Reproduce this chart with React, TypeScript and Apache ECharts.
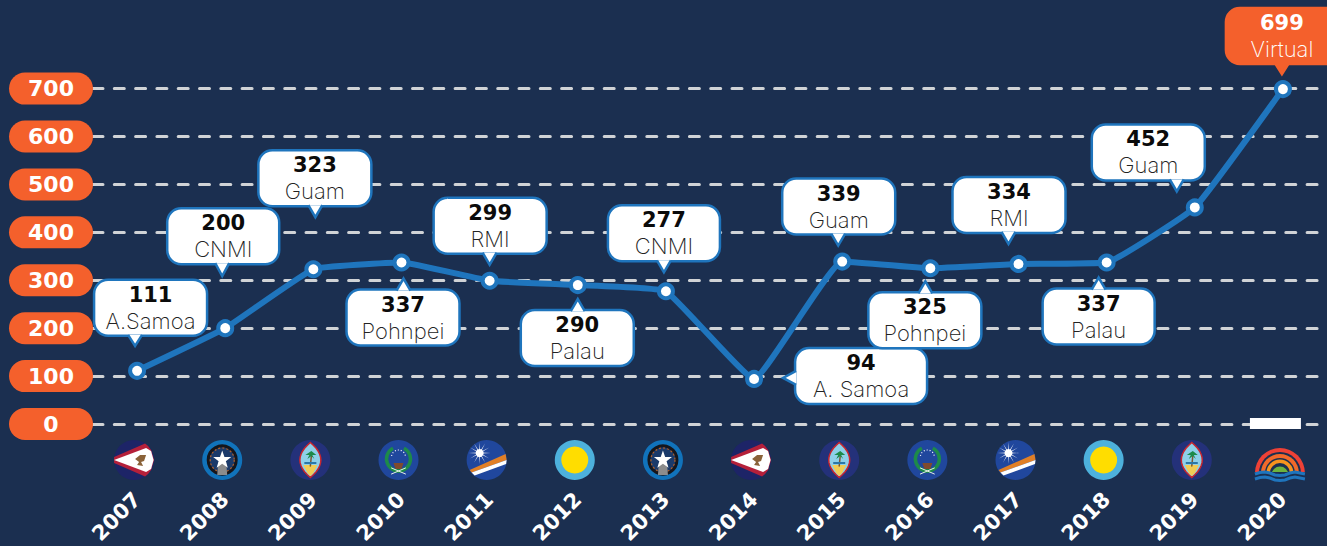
import React, { useEffect, useRef } from "react";
import * as echarts from "echarts";

const years = ["2007","2008","2009","2010","2011","2012","2013","2014","2015","2016","2017","2018","2019","2020"];
const participants = [111,200,323,337,299,290,277,94,339,325,334,337,452,699];
const hosts = ["A.Samoa","CNMI","Guam","Pohnpei","RMI","Palau","CNMI","A. Samoa","Guam","Pohnpei","RMI","Palau","Guam","Virtual"];
const flags = ["asamoa","cnmi","guam","pohnpei","rmi","palau","cnmi","asamoa","guam","pohnpei","rmi","palau","guam","virtual"];
const yTicks = [0,100,200,300,400,500,600,700];

// Callout placement relative to its point: box left/top/width/height, tail tip and tail direction
const calloutLayout = [
  { bx:-43, by:-91, w:113, tx:-2, ty:-25, dir:"down" },
  { bx:-58, by:-120, w:112, tx:-3, ty:-52, dir:"down" },
  { bx:-55, by:-119, w:113, tx:2, ty:-52, dir:"down" },
  { bx:-55, by:27, w:113, tx:2, ty:16, dir:"up" },
  { bx:-56, by:-83, w:113, tx:0, ty:-16, dir:"down" },
  { bx:-57, by:25, w:113, tx:0, ty:14, dir:"up" },
  { bx:-58, by:-86, w:112, tx:-2, ty:-19, dir:"down" },
  { bx:41, by:-31, w:132, tx:29, ty:-1, dir:"left" },
  { bx:-60, by:-83, w:113, tx:-4, ty:-16, dir:"down" },
  { bx:-62, by:24, w:113, tx:-5, ty:13, dir:"up" },
  { bx:-66, by:-87, w:113, tx:-10, ty:-20, dir:"down" },
  { bx:-64, by:26, w:112, tx:-8, ty:15, dir:"up" },
  { bx:-103, by:-83, w:113, tx:-18, ty:-16, dir:"down" },
  { bx:-57, by:-81, w:120, tx:-1, ty:-15, dir:"down" },
];

const BG = "#1b2f50";
const ORANGE = "#f4602c";
const BLUE = "#1f75bd";
const HEAVY = "'DejaVu Sans', sans-serif";
const LIGHT = "Inter, sans-serif";

function starPts(cx: number, cy: number, R: number, r: number, n = 5): number[][] {
  const out: number[][] = [];
  for (let i = 0; i < n * 2; i++) {
    const a = -Math.PI / 2 + (i * Math.PI) / n;
    const q = i % 2 ? r : R;
    out.push([cx + q * Math.cos(a), cy + q * Math.sin(a)]);
  }
  return out;
}
const poly = (points: number[][], fill: string) => ({ type: "polygon", shape: { points }, style: { fill } });
const circ = (cx: number, cy: number, r: number, fill: string, extra: any = {}) => ({ type: "circle", shape: { cx, cy, r }, style: { fill, ...extra } });
const pline = (points: number[][], stroke: string, lineWidth: number) => ({ type: "polyline", shape: { points }, style: { stroke, lineWidth, fill: "none", lineCap: "round" } });

function flagShapes(kind: string): any[] {
  if (kind === "asamoa") return [
    circ(0,0,20,"#1d2467"),
    poly([[-20,-3],[11,-16.5],[14,-14],[17,-10],[20,0],[17,10],[14,14],[11,16.5],[-20,3]],"#b5203a"),
    poly([[-20,0],[12,-12],[17,-9],[19.5,0],[17,9],[12,12]],"#ffffff"),
    poly([[1,-1],[6,-5],[12,-5],[10,1],[7,2],[9,6],[3,5],[5,2]],"#8a6239"),
  ];
  if (kind === "cnmi") return [
    circ(0,0,20,"#1173bb"),
    circ(0,0,14,"#1b3a6a",{ stroke:"#15161c", lineWidth:3 }),
    circ(0,0,12,"none",{ stroke:"#b0602a", lineWidth:1.2, lineDash:[2,2] }),
    poly([[-4,2],[4,2],[5,15],[-5,15]],"#8c8c8c"),
    poly(starPts(0,0,9.5,3.8),"#ffffff"),
  ];
  if (kind === "guam") {
    const lens: number[][] = [];
    for (let i = 0; i <= 12; i++) { const t = -1 + i / 6; lens.push([10.5 * (1 - t * t), 17.5 * t]); }
    for (let i = 11; i > 0; i--) { const t = -1 + i / 6; lens.push([-10.5 * (1 - t * t), 17.5 * t]); }
    return [
      circ(0,0,20,"#24317a"),
      { type:"polygon", shape:{ points:lens }, style:{ fill:"#8ed0ea", stroke:"#c9252f", lineWidth:1.5 } },
      poly([[-7,5],[7,5],[3,13],[0,16],[-3,13]],"#f2cc55"),
      pline([[0,6],[1,-4]],"#7a5a36",1.5),
      poly([[1,-9],[6,-5],[2,-5],[4,-1],[1,-4],[-3,-1],[-1,-5],[-5,-5]],"#1d8a4a"),
      poly([[-6,2],[6,2],[6,4],[-6,4]],"#2b78a8"),
    ];
  }
  if (kind === "pohnpei") return [
    circ(0,0,20,"#20479d"),
    { type:"arc", shape:{ cx:0, cy:-1, r:12, startAngle:Math.PI*0.42, endAngle:Math.PI*1.35 }, style:{ stroke:"#1d8a4a", lineWidth:3.5, fill:"none" } },
    { type:"arc", shape:{ cx:0, cy:-1, r:12, startAngle:Math.PI*1.65, endAngle:Math.PI*0.58 }, style:{ stroke:"#1d8a4a", lineWidth:3.5, fill:"none" } },
    { type:"arc", shape:{ cx:0, cy:-3, r:7, startAngle:Math.PI*1.05, endAngle:Math.PI*1.95 }, style:{ stroke:"#ffffff", lineWidth:1.2, fill:"none", lineDash:[1,2] } },
    poly([[-5,3],[5,3],[3,9],[-3,9]],"#7f4a2d"),
    pline([[-7,14],[7,8]],"#e8efe8",1),
    pline([[7,14],[-7,8]],"#e8efe8",1),
  ];
  if (kind === "rmi") return [
    circ(0,0,20,"#20479d"),
    poly([[-17,10],[19,-6],[20,0],[-15,12.5]],"#e07f26"),
    poly([[-15,12.5],[20,0],[19.5,4],[-12,15.5]],"#ffffff"),
    poly(starPts(-7,-7,11,1.8,12),"#ffffff"),
    circ(-7,-7,4,"#ffffff"),
  ];
  if (kind === "palau") return [circ(0,0,20,"#4db1dc"), circ(0,0,13.5,"#ffdd00")];
  const half = (r: number, fill: string) => ({ type:"sector", shape:{ cx:0, cy:6, r, r0:0, startAngle:Math.PI, endAngle:Math.PI*2, clockwise:true }, style:{ fill } });
  const wave = (y: number, c: string) => ({ type:"polyline", shape:{ points:[[-25,y],[-20,y-1.5],[-15,y-2],[-10,y-1],[-5,y+1],[0,y+1.5],[5,y+1],[10,y-1],[15,y-2],[20,y-1],[25,y]] }, style:{ stroke:c, lineWidth:3, fill:"none" } });
  return [
    half(25,"#ef4136"), half(21,BG), half(19,"#f26a2a"), half(15,BG), half(13.5,"#f7941e"), half(10,BG),
    { type:"sector", shape:{ cx:0, cy:8, r:8.5, r0:0, startAngle:Math.PI, endAngle:Math.PI*2, clockwise:true }, style:{ fill:"#6cb33f" } },
    { type:"rect", shape:{ x:-25, y:5, width:50, height:12 }, style:{ fill:BG } },
    wave(7,"#1f75bd"), wave(12,"#1f75bd"),
  ];
}

export default function App() {
  const ref = useRef<HTMLDivElement>(null);
  useEffect(() => {
    document.body.style.margin = "0";
    document.body.style.background = BG;
    const chart = echarts.init(ref.current!, null, { renderer: "svg" });
    chart.setOption({
      animation: false,
      backgroundColor: BG,
      grid: { left: 93, right: 0, top: 88.6, bottom: 122, outerBoundsMode: "none" },
      xAxis: {
        type: "category",
        data: years,
        axisLine: { show: false },
        axisTick: { show: false },
        splitLine: { show: false },
        axisLabel: {
          interval: 0, rotate: 45, margin: 72,
          color: "#fff", fontFamily: HEAVY, fontWeight: "bold", fontSize: 21,
        },
      },
      yAxis: {
        type: "value", min: 0, max: 700, interval: 100,
        axisLine: { show: false },
        axisTick: { show: false },
        splitLine: { lineStyle: { type: [10, 11.3], color: "#d0d3d6", width: 3, cap: "round" } },
        axisLabel: {
          margin: 0,
          formatter: (v: number) => `{p|${yTicks.includes(v) ? v : ""}}`,
          rich: {
            p: { width: 84, height: 32, lineHeight: 32, align: "center", backgroundColor: ORANGE, borderRadius: 16,
                 color: "#fff", fontFamily: HEAVY, fontWeight: "bold", fontSize: 22 },
          },
        },
      },
      series: [
        {
          type: "line", data: participants, smooth: 0.1, z: 3,
          lineStyle: { color: BLUE, width: 6 },
          symbol: "circle", symbolSize: 14,
          itemStyle: { color: "#fff", borderColor: BLUE, borderWidth: 4 },
          label: { show: false },
        },
        {
          type: "custom", clip: false, silent: true, z: 2,
          data: years.map((_, i) => [i, 0]),
          renderItem: (params: any, api: any) => {
            const i = params.dataIndex;
            const p = api.coord([api.value(0), 0]);
            const kind = flags[i];
            const children = flagShapes(kind);
            const items: any[] = [{ type: "group", x: p[0] - 3, y: p[1] + (kind === "virtual" ? 43 : 36), children }];
            if (kind === "virtual") {
              items.push({ type: "rect", shape: { x: p[0] - 33, y: p[1] - 6, width: 51, height: 11 }, style: { fill: "#fff" } });
            }
            return { type: "group", children: items };
          },
        },
        {
          type: "custom", clip: false, silent: true, z: 4,
          data: participants.map((v, i) => [i, v]),
          renderItem: (params: any, api: any) => {
            const i = params.dataIndex;
            const p = api.coord([api.value(0), api.value(1)]);
            const l = calloutLayout[i];
            const isVirtual = hosts[i] === "Virtual";
            const fill = isVirtual ? ORANGE : "#fff";
            const stroke = isVirtual ? ORANGE : BLUE;
            const h = 56;
            const cx = l.bx + l.w / 2;
            const tail: number[][] =
              l.dir === "down" ? [[l.tx - 7, l.by + h - 1], [l.tx, l.ty], [l.tx + 7, l.by + h - 1]] :
              l.dir === "up" ? [[l.tx - 7, l.by + 1], [l.tx, l.ty], [l.tx + 7, l.by + 1]] :
              [[l.bx + 1, l.ty - 7], [l.tx, l.ty], [l.bx + 1, l.ty + 7]];
            const textCx = isVirtual ? l.bx + 56 : cx;
            return {
              type: "group", x: p[0], y: p[1],
              children: [
                { type: "rect", shape: { x: l.bx, y: l.by, width: l.w, height: h, r: 14 }, style: { fill, stroke, lineWidth: 2.5 } },
                { type: "polyline", shape: { points: tail }, style: { fill, stroke, lineWidth: 2.5 } },
                { type: "text", x: textCx, y: l.by + 15, style: { text: String(participants[i]), fontFamily: HEAVY, fontWeight: "bold", fontSize: 21, fill: isVirtual ? "#fff" : "#0b0b0b", align: "center", verticalAlign: "middle" } },
                { type: "text", x: textCx, y: l.by + 41, style: { text: hosts[i], fontFamily: LIGHT, fontWeight: 200, fontSize: 22, fill: isVirtual ? "#fff" : "#222", align: "center", verticalAlign: "middle" } },
              ],
            };
          },
        },
      ],
    });
    return () => chart.dispose();
  }, []);
  return <div ref={ref} style={{ width: 1327, height: 546 }} />;
}
